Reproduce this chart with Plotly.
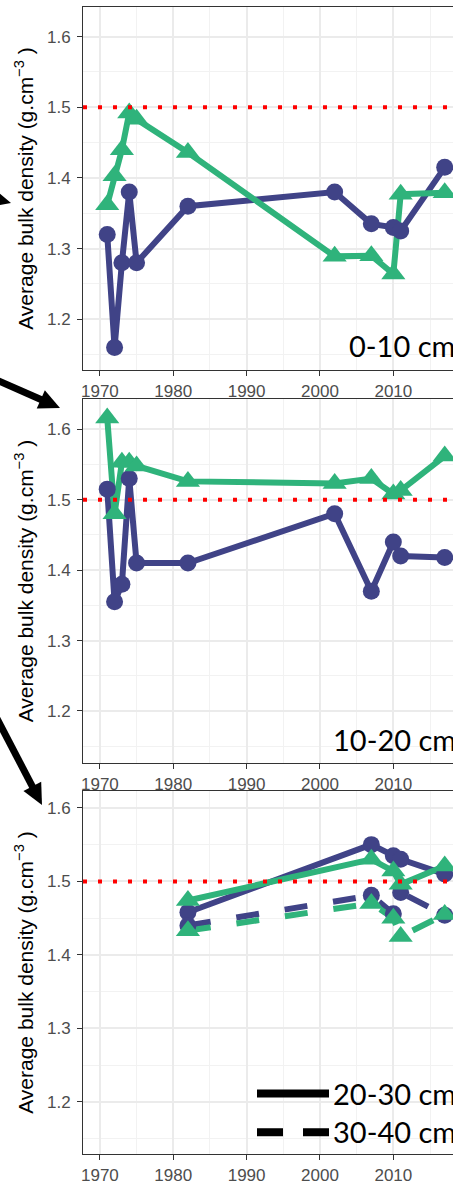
import math
import plotly.graph_objects as go

# ---------------- data ----------------
years_a = [1971, 1972, 1973, 1974, 1975, 1982, 2002, 2007, 2010, 2011, 2017]
p1_blue = [1.32, 1.16, 1.28, 1.38, 1.28, 1.36, 1.38, 1.335, 1.33, 1.325, 1.415]
p1_green = [1.362, 1.403, 1.44, 1.492, 1.483, 1.436, 1.289, 1.29, 1.264, 1.377, 1.379]
p2_blue = [1.515, 1.355, 1.38, 1.53, 1.41, 1.41, 1.48, 1.37, 1.44, 1.42, 1.418]
p2_green = [1.616, 1.48, 1.553, 1.553, 1.548, 1.526, 1.523, 1.53, 1.508, 1.513, 1.562]
years_b = [1982, 2007, 2010, 2011, 2017]
p3_blue_2030 = [1.458, 1.55, 1.535, 1.53, 1.51]
p3_green_2030 = [1.474, 1.53, 1.514, 1.496, 1.521]
p3_blue_3040 = [1.44, 1.481, 1.456, 1.485, 1.454]
p3_green_3040 = [1.433, 1.47, 1.45, 1.425, 1.455]
threshold = 1.5
x_ticks = [1970, 1980, 1990, 2000, 2010]
y_ticks = [1.2, 1.3, 1.4, 1.5, 1.6]
panel_labels = ["0-10 cm", "10-20 cm"]
legend_labels = ["20-30 cm", "30-40 cm"]

# ---------------- style ----------------
W, H, L = 453, 1185, 83
BLUE = "#404387"
GREEN = "#2FB37B"
LW = 6
DASH = "23px,26px"
CIRC = 17
TRI = 21

def XP(px):
    return (px - L) / (W - L)

def YP(py):
    return 1 - py / H

panels = [  # (top px, bottom px, y range)
    (7, 372, [1.128, 1.642]),
    (401, 767, [1.126, 1.643]),
    (795, 1160, [1.129, 1.623]),
]

fig = go.Figure()

def add_series(k, xs, ys, color, dash="solid"):
    ax = "" if k == 1 else str(k)
    fig.add_trace(go.Scatter(x=xs, y=ys, mode="lines", xaxis="x" + ax, yaxis="y" + ax,
                             line=dict(color=color, width=LW, dash=dash),
                             showlegend=False, hoverinfo="skip"))

def add_marks(k, xs, ys, color, symbol, size):
    ax = "" if k == 1 else str(k)
    fig.add_trace(go.Scatter(x=xs, y=ys, mode="markers", xaxis="x" + ax, yaxis="y" + ax,
                             marker=dict(color=color, symbol=symbol, size=size, line=dict(width=0)),
                             showlegend=False, hoverinfo="skip"))

# panel 1
add_series(1, years_a, p1_blue, BLUE)
add_series(1, years_a, p1_green, GREEN)
add_marks(1, years_a, p1_blue, BLUE, "circle", CIRC)
add_marks(1, years_a, p1_green, GREEN, "triangle-up", TRI)
# panel 2
add_series(2, years_a, p2_blue, BLUE)
add_series(2, years_a, p2_green, GREEN)
add_marks(2, years_a, p2_blue, BLUE, "circle", CIRC)
add_marks(2, years_a, p2_green, GREEN, "triangle-up", TRI)
# panel 3
add_series(3, years_b, p3_blue_2030, BLUE)
add_series(3, years_b, p3_green_2030, GREEN)
add_series(3, years_b, p3_blue_3040, BLUE, DASH)
add_series(3, years_b, p3_green_3040, GREEN, DASH)
add_marks(3, years_b, p3_blue_2030, BLUE, "circle", CIRC)
add_marks(3, years_b, p3_blue_3040, BLUE, "circle", CIRC)
add_marks(3, years_b, p3_green_2030, GREEN, "triangle-up", TRI)
add_marks(3, years_b, p3_green_3040, GREEN, "triangle-up", TRI)

tickfont = dict(family="Liberation Sans, Arial, sans-serif", size=17, color="#4D4D4D")
xr = [1970 - (100 - L) / 7.38, 1970 + (W - 100) / 7.38 + 0.3]

layout = dict(
    width=W, height=H,
    margin=dict(l=L, r=0, t=0, b=0),
    paper_bgcolor="white", plot_bgcolor="white",
    showlegend=False,
)
shapes = []
for i, (top, bot, yr) in enumerate(panels):
    k = i + 1
    ax = "" if k == 1 else str(k)
    layout["xaxis" + ax] = dict(
        domain=[0, 1], anchor="y" + ax, range=xr, tickvals=x_ticks,
        ticks="outside", ticklen=5, tickcolor="#333333", tickwidth=1,
        showline=True, linecolor="#333333", linewidth=1, mirror=True,
        showgrid=True, gridcolor="#EBEBEB", gridwidth=2,
        minor=dict(dtick=5, tick0=1970, showgrid=True, gridcolor="#F2F2F2", gridwidth=1),
        tickfont=tickfont, zeroline=False,
    )
    layout["yaxis" + ax] = dict(
        domain=[YP(bot), YP(top)], anchor="x" + ax, range=yr, tickvals=y_ticks,
        tickformat=".1f",
        ticks="outside", ticklen=5, tickcolor="#333333", tickwidth=1,
        showline=True, linecolor="#333333", linewidth=1, mirror=False,
        showgrid=True, gridcolor="#EBEBEB", gridwidth=2,
        minor=dict(dtick=0.05, tick0=1.2, showgrid=True, gridcolor="#F2F2F2", gridwidth=1),
        tickfont=tickfont, zeroline=False, ticklabelstandoff=3,
        title=dict(text="Average bulk density (g.cm<sup>−3</sup> )",
                   font=dict(family="Liberation Sans, Arial, sans-serif", size=21, color="black"),
                   standoff=7),
    )
    shapes.append(dict(type="line", xref="x" + ax + " domain", yref="y" + ax,
                       x0=0, x1=1, y0=threshold, y1=threshold,
                       line=dict(color="#FF0000", width=4, dash="4px,11px"), layer="above"))

fig.update_layout(**layout)

# panel annotations
annots = []
font_big = dict(family="Lato, Carlito, sans-serif", size=29, color="black")
annots.append(dict(text=panel_labels[0], xref="paper", yref="paper", x=XP(347), y=YP(347),
                   xanchor="left", yanchor="middle", showarrow=False, font=font_big))
annots.append(dict(text=panel_labels[1], xref="paper", yref="paper", x=XP(331), y=YP(743),
                   xanchor="left", yanchor="middle", showarrow=False, font=font_big))
annots.append(dict(text=legend_labels[0], xref="paper", yref="paper", x=XP(331), y=YP(1099),
                   xanchor="left", yanchor="middle", showarrow=False, font=font_big))
annots.append(dict(text=legend_labels[1], xref="paper", yref="paper", x=XP(331), y=YP(1137),
                   xanchor="left", yanchor="middle", showarrow=False, font=font_big))

# legend key lines
shapes.append(dict(type="line", xref="paper", yref="paper", x0=XP(257), x1=XP(329),
                   y0=YP(1099), y1=YP(1099), line=dict(color="black", width=8)))
shapes.append(dict(type="line", xref="paper", yref="paper", x0=XP(257), x1=XP(283),
                   y0=YP(1138), y1=YP(1138), line=dict(color="black", width=8)))
shapes.append(dict(type="line", xref="paper", yref="paper", x0=XP(303), x1=XP(329),
                   y0=YP(1138), y1=YP(1138), line=dict(color="black", width=8)))

# arrows on the left margin
def arrow(tail, tip, head_len=21, half_w=10, width=7):
    dx, dy = tip[0] - tail[0], tip[1] - tail[1]
    n = math.hypot(dx, dy)
    ux, uy = dx / n, dy / n
    bx, by = tip[0] - head_len * ux, tip[1] - head_len * uy
    px_, py_ = -uy, ux
    shapes.append(dict(type="line", xref="paper", yref="paper",
                       x0=XP(tail[0]), y0=YP(tail[1]), x1=XP(bx + 2 * ux), y1=YP(by + 2 * uy),
                       line=dict(color="black", width=width)))
    c1 = (bx + half_w * px_, by + half_w * py_)
    c2 = (bx - half_w * px_, by - half_w * py_)
    path = "M {},{} L {},{} L {},{} Z".format(XP(tip[0]), YP(tip[1]), XP(c1[0]), YP(c1[1]),
                                            XP(c2[0]), YP(c2[1]))
    shapes.append(dict(type="path", xref="paper", yref="paper", path=path,
                       fillcolor="black", line=dict(color="black", width=0)))

arrow((-60, 185), (11, 204))
arrow((-10, 379), (60, 410))
arrow((-12, 705), (42, 809))

fig.update_layout(shapes=shapes, annotations=annots)

fig.write_html("out.html", config={"displayModeBar": False},
               post_script="document.body.style.margin='0';document.body.style.overflow='hidden';")
